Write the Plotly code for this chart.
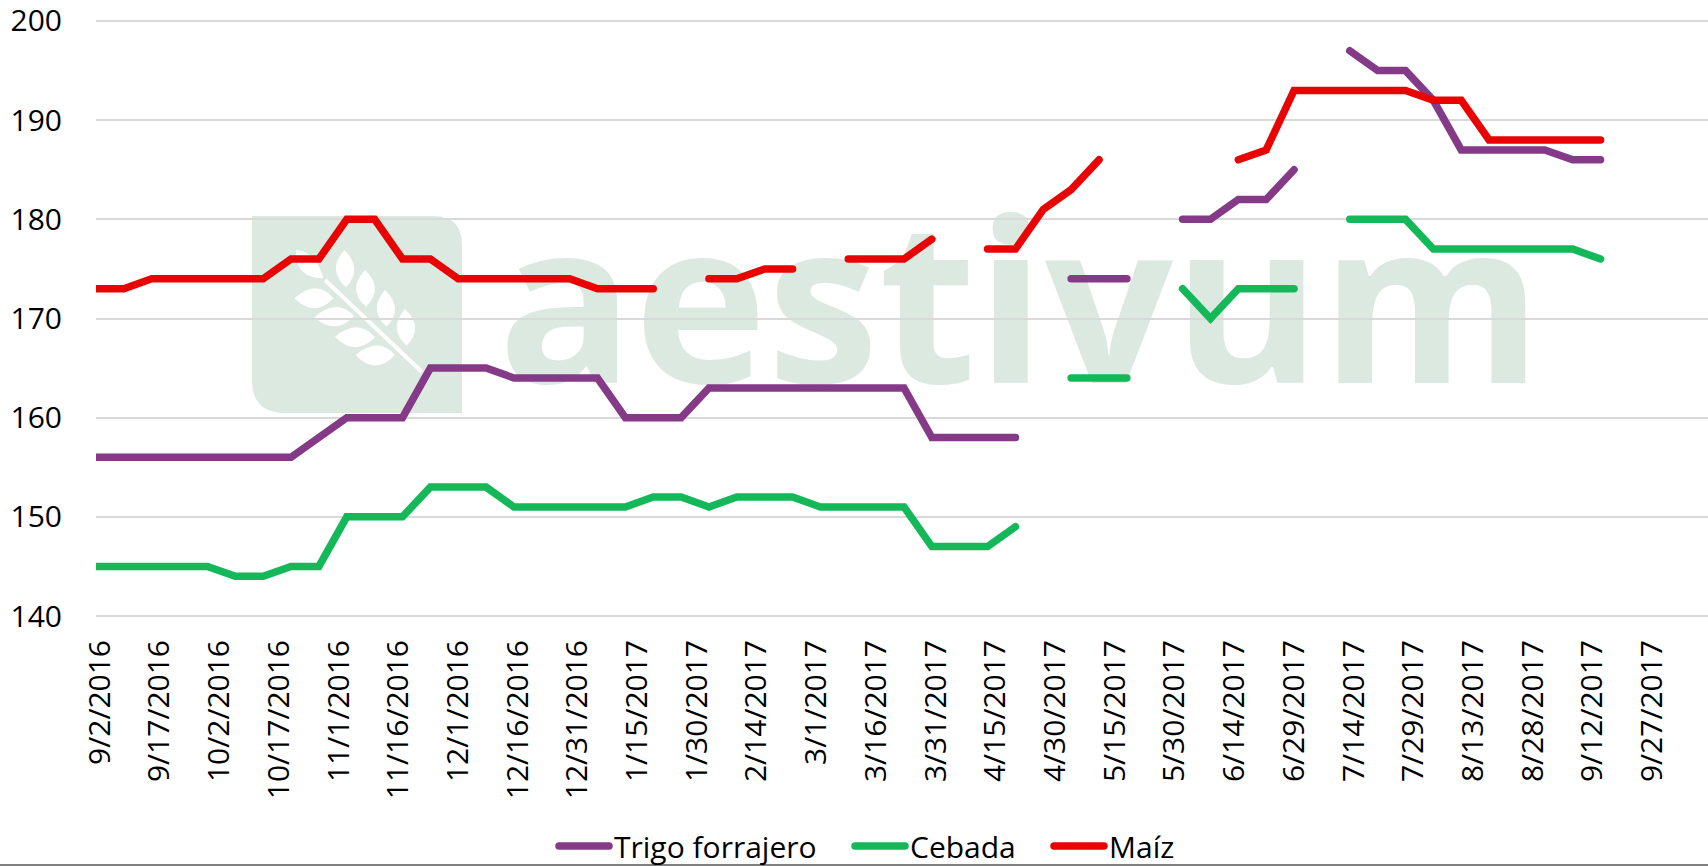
import pandas as pd
import plotly.graph_objects as go

N = None
dates = pd.date_range("2016-09-02", periods=55, freq="7D")
trigo = [156,156,156,156,156,156,156,156,158,160,160,160,165,165,165,164,164,164,164,160,160,160,163,163,163,163,163,163,163,163,158,158,158,158,N,174,174,174,N,180,180,182,182,185,N,197,195,195,192,187,187,187,187,186,186]
cebada = [145,145,145,145,145,144,144,145,145,150,150,150,153,153,153,151,151,151,151,151,152,152,151,152,152,152,151,151,151,151,147,147,147,149,N,164,164,164,N,173,170,173,173,173,N,180,180,180,177,177,177,177,177,177,176]
maiz = [173,173,174,174,174,174,174,176,176,180,180,176,176,174,174,174,174,174,173,173,173,N,174,174,175,175,N,176,176,176,178,N,177,177,181,183,186,N,N,N,N,186,187,193,193,193,193,193,192,192,188,188,188,188,188]
tick_dates = pd.date_range("2016-09-02", "2017-09-27", freq="15D")
tick_labels = [f"{d.month}/{d.day}/{d.year}" for d in tick_dates]
y_ticks = [140,150,160,170,180,190,200]

W, H = 1708, 866
L, R, T, B = 96, 0, 19, 248
PW, PH = W-L-R, H-T-B
FONT = "Open Sans"
WM = "#DBE9E0"

def fx(x): return (x-L)/PW
def fy(y): return 1-(y-T)/PH
def pt(x, y): return f"{fx(x):.5f},{fy(y):.5f}"

def logo_path():
    l, r, t, b = 252, 462, 216, 413
    return (f"M {pt(l,t)} L {pt(r-28,t)} Q {pt(r,t)} {pt(r,t+30)} "
            f"L {pt(r,b)} L {pt(l+33,b)} Q {pt(l,b)} {pt(l,b-33)} Z")

# leaf outlines, in zoom-crop pixels of the logo: tip, control, tip, control
LEAVES = [
    ((153,120),(215,125),(235,205),(150,205)),
    ((148,265),(215,205),(265,265),(210,325)),
    ((208,322),(275,262),(328,318),(270,378)),
    ((270,380),(340,322),(390,382),(330,442)),
    ((332,435),(400,378),(450,435),(390,498)),
    ((298,120),(355,175),(303,232),(245,180)),
    ((360,180),(418,235),(363,290),(305,240)),
    ((420,240),(478,295),(425,350),(368,300)),
    ((480,297),(538,352),(485,407),(428,357)),
]
def lz(p): return 245+p[0]/3, 210+p[1]/3

shapes = [dict(type="path", xref="paper", yref="paper", path=logo_path(), fillcolor=WM, line_width=0, layer="below")]
for a, c1, b, c2 in LEAVES:
    shapes.append(dict(type="path", xref="paper", yref="paper", layer="below", fillcolor="white", line_width=0,
                       path=f"M {pt(*lz(a))} Q {pt(*lz(c1))} {pt(*lz(b))} Q {pt(*lz(c2))} {pt(*lz(a))} Z"))
shapes.append(dict(type="line", xref="paper", yref="paper", layer="below", x0=fx(325), y0=fy(280), x1=fx(422), y1=fy(372),
                   line=dict(color="white", width=4)))
shapes.append(dict(type="rect", xref="paper", yref="paper", x0=fx(500), x1=fx(1540), y0=fy(401), y1=fy(221),
                   line_width=0, fillcolor="rgba(0,0,0,0)", layer="below",
                   label=dict(text="aestivum", textposition="middle center",
                              font=dict(family=FONT, size=225, color=WM, weight=700))))
shapes.append(dict(type="line", xref="paper", yref="paper", x0=-L/PW, x1=1, y0=fy(865), y1=fy(865),
                   line=dict(color="#808080", width=2), layer="above"))

fig = go.Figure()
for name, vals, col, leg in [("Trigo forrajero", trigo, "#853A88", "legend"), ("Cebada", cebada, "#14B858", "legend2"), ("Maíz", maiz, "#E90404", "legend3")]:
    fig.add_trace(go.Scatter(x=dates, y=vals, name=name, mode="lines", line=dict(color=col, width=7.5),
                             connectgaps=False, legend=leg, showlegend=True))

def leg(xpx):
    return dict(x=xpx/W, xanchor="left", xref="container", y=1-846/H, yanchor="middle", yref="container",
                itemwidth=50, font=dict(size=30, family=FONT), bgcolor="rgba(0,0,0,0)")

fig.update_layout(
    width=W, height=H, margin=dict(l=L, r=R, t=T, b=B, autoexpand=False),
    plot_bgcolor="white", paper_bgcolor="white",
    font=dict(family=FONT, size=30, color="#000000"),
    shapes=shapes,
    legend=leg(554), legend2=leg(850), legend3=leg(1049),
)
fig.update_xaxes(type="date", range=["2016-09-02", "2017-10-12"], tickvals=list(tick_dates), ticktext=tick_labels,
                 tickangle=-90, showgrid=False, showline=False, zeroline=False, ticks="",
                 ticklabelstandoff=15, ticklabelshift=4, ticklabeloverflow="allow", tickfont=dict(size=30, family=FONT))
fig.update_yaxes(range=[139.8,200.2], tickvals=y_ticks, gridcolor="#D9D9D9", gridwidth=2, zeroline=False, showline=False,
                 ticks="", ticklabelstandoff=33, ticklabeloverflow="allow", tickfont=dict(size=30, family=FONT))

post = """
document.body.style.margin='0';document.documentElement.style.overflow='hidden';
function rc(){document.querySelectorAll('.js-line,.legendlines path').forEach(function(e){e.style.strokeLinecap='round';});}
var gd=document.getElementById('{plot_id}');rc();gd.on('plotly_afterplot',rc);
"""
fig.write_html("out.html", post_script=post, config=dict(displayModeBar=False))
